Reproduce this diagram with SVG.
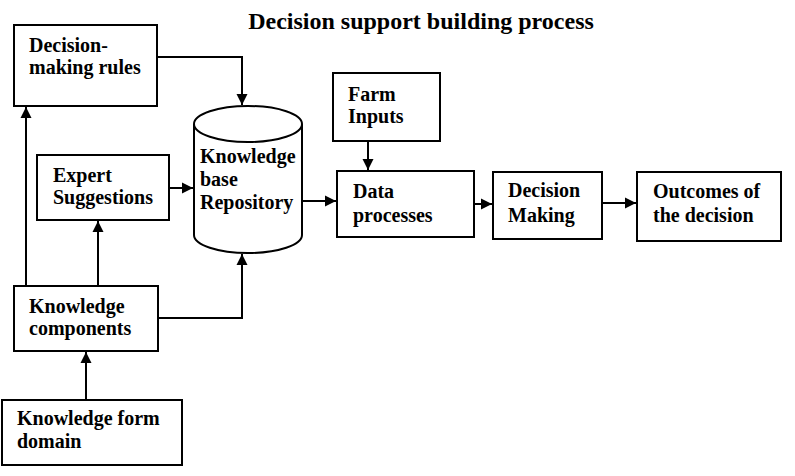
<svg xmlns="http://www.w3.org/2000/svg" width="795" height="476" viewBox="0 0 795 476">
<defs>
<marker id="ah" markerWidth="12" markerHeight="12" refX="11" refY="6" orient="auto" markerUnits="userSpaceOnUse">
<path d="M0,0.5 L11,6 L0,11.5 Z" fill="#000"/>
</marker>
<style>
.box{fill:#fff;stroke:#000;stroke-width:2}
.c{fill:none;stroke:#000;stroke-width:2;marker-end:url(#ah)}
</style>
</defs>
<rect width="795" height="476" fill="#fff"/>
<g font-family="'Liberation Serif', 'Times New Roman', 'DejaVu Serif', serif" font-weight="bold" fill="#000">
<text x="421" y="29" font-size="24" text-anchor="middle">Decision support building process</text>
</g>
<g id="connectors">
<path class="c" d="M157,57 H242 V105"/>
<path class="c" d="M169,188 H193"/>
<path class="c" d="M26,286 V107"/>
<path class="c" d="M98,286 V221"/>
<path class="c" d="M157,318 H242 V254"/>
<path class="c" d="M86,400 V352"/>
<path class="c" d="M302,201 H336"/>
<path class="c" d="M368,141 V170"/>
<path class="c" d="M468,204 H492"/>
<path class="c" d="M602,203 H636"/>
</g>
<g font-family="'Liberation Serif', 'Times New Roman', 'DejaVu Serif', serif" font-weight="bold" font-size="20" fill="#000">
<g id="rules">
<rect class="box" x="14" y="25" width="143" height="81"/>
<text x="29" y="52">Decision-</text>
<text x="29" y="74">making rules</text>
</g>
<g id="expert">
<rect class="box" x="37" y="155" width="132" height="65"/>
<text x="53" y="182">Expert</text>
<text x="53" y="204">Suggestions</text>
</g>
<g id="repository">
<path class="box" d="M194,124 V235 A54,18 0 0 0 302,235 V124"/>
<ellipse class="box" cx="248" cy="124" rx="54" ry="18"/>
<text x="200" y="163">Knowledge</text>
<text x="200" y="186">base</text>
<text x="200" y="209">Repository</text>
</g>
<g id="components">
<rect class="box" x="14" y="286" width="144" height="65"/>
<text x="29" y="313">Knowledge</text>
<text x="29" y="335">components</text>
</g>
<g id="domain">
<rect class="box" x="2" y="400" width="180" height="65"/>
<text x="17" y="425">Knowledge form</text>
<text x="17" y="448">domain</text>
</g>
<g id="farm">
<rect class="box" x="333" y="73" width="107" height="68"/>
<text x="348" y="101">Farm</text>
<text x="348" y="123">Inputs</text>
</g>
<g id="data">
<rect class="box" x="337" y="171" width="137" height="66"/>
<text x="353" y="198">Data</text>
<text x="353" y="222">processes</text>
</g>
<g id="decision">
<rect class="box" x="493" y="172" width="109" height="67"/>
<text x="508" y="197">Decision</text>
<text x="508" y="222">Making</text>
</g>
<g id="outcomes">
<rect class="box" x="637" y="172" width="144" height="69"/>
<text x="653" y="198">Outcomes of</text>
<text x="653" y="222">the decision</text>
</g>
</g>
</svg>
